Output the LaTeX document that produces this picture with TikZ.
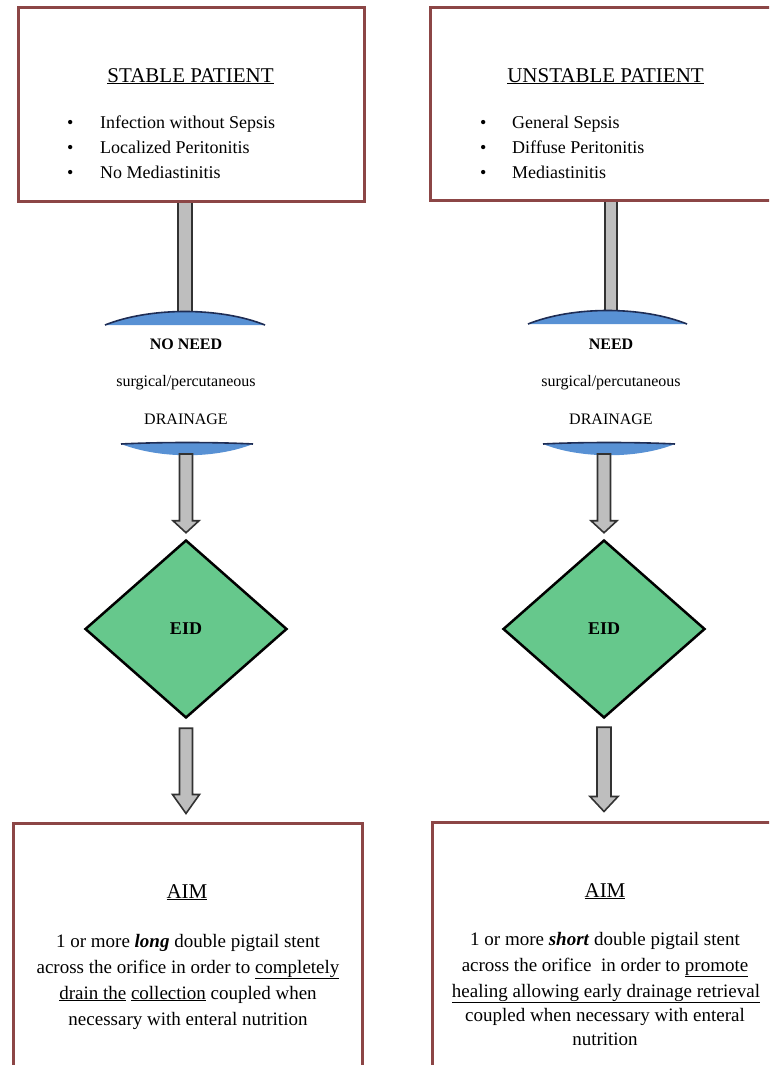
\documentclass[tikz,border=0pt]{standalone}
\usepackage{fontspec}
\setmainfont{Liberation Serif}
\usetikzlibrary{shapes.geometric,calc}
\definecolor{boxred}{RGB}{140,70,70}
\definecolor{bargray}{RGB}{190,190,190}
\definecolor{baredge}{RGB}{50,50,50}
\definecolor{capblue}{RGB}{88,145,212}
\definecolor{capedge}{RGB}{30,45,85}
\definecolor{eidgreen}{RGB}{102,200,140}
\begin{document}
\begin{tikzpicture}[x=1pt,y=-1pt,
  redbox/.style={draw=boxred,line width=3pt,fill=white,inner sep=0pt},
  titletext/.style={font=\fontsize{21}{24}\selectfont,anchor=base,inner sep=0pt},
  bullettext/.style={font=\fontsize{18}{22}\selectfont,anchor=base west,inner sep=0pt},
  midtext/.style={font=\fontsize{16}{19}\selectfont,anchor=base,inner sep=0pt},
  aimtext/.style={font=\fontsize{19}{22}\selectfont,anchor=base,inner sep=0pt},
  eid/.style={diamond,draw=black,line width=2.5pt,fill=eidgreen,minimum width=202pt,minimum height=178pt,inner sep=0pt,font=\bfseries\fontsize{18}{20}\selectfont},
  bar/.style={draw=baredge,line width=1.6pt,fill=bargray,line join=miter},
  capfill/.style={fill=capblue},
  capline/.style={draw=capedge,line width=1.6pt}
]
\useasboundingbox (0,0) rectangle (769,1065);
\clip (0,0) rectangle (769,1065);

% ---------- coordinates of columns ----------
\coordinate (capUL) at (185,311);
\coordinate (capLL) at (186,452);
\coordinate (capUR) at (611,310);
\coordinate (capLR) at (604,452);

% ---------- bars from top boxes to caps ----------
\coordinate (barTopL) at (185,200);
\coordinate (barTopR) at (611,200);
\draw[bar] ($(barTopL)+(-7,0)$) rectangle ($(capUL)+(7,4)$);
\draw[bar] ($(barTopR)+(-6,0)$) rectangle ($(capUR)+(6,4)$);

% ---------- top boxes ----------
\node[redbox,minimum width=346pt,minimum height=193pt] (stable) at (191,104.5) {};
\node[redbox,minimum width=350pt,minimum height=192pt] (unstable) at (605,104) {};

\node[titletext] (stableT) at (190.5,82) {\underline{STABLE PATIENT}};
\node[bullettext] (s1) at (67,128) {\makebox[33pt][l]{\textbullet}Infection without Sepsis};
\node[bullettext] (s2) at (67,153) {\makebox[33pt][l]{\textbullet}Localized Peritonitis};
\node[bullettext] (s3) at (67,178) {\makebox[33pt][l]{\textbullet}No Mediastinitis};

\node[titletext] (unstableT) at (605.5,82) {\underline{UNSTABLE PATIENT}};
\node[bullettext] (u1) at (480,128) {\makebox[32pt][l]{\textbullet}General Sepsis};
\node[bullettext] (u2) at (480,153) {\makebox[32pt][l]{\textbullet}Diffuse Peritonitis};
\node[bullettext] (u3) at (480,178) {\makebox[32pt][l]{\textbullet}Mediastinitis};

% ---------- caps ----------
\fill[capfill] (105,325) .. controls (150,307) and (220,307) .. (265,325) -- cycle;
\draw[capline] (105,325) .. controls (150,307) and (220,307) .. (265,325);
\fill[capfill] (121,444) .. controls (160,442) and (215,442) .. (253,444) .. controls (215,459) and (160,459) .. (121,444) -- cycle;
\draw[capline] (121,444) .. controls (160,442) and (215,442) .. (253,444);

\fill[capfill] (528,324) .. controls (573,306) and (642,306) .. (687,324) -- cycle;
\draw[capline] (528,324) .. controls (573,306) and (642,306) .. (687,324);
\fill[capfill] (543,444) .. controls (580,442) and (638,442) .. (675,444) .. controls (638,459) and (580,459) .. (543,444) -- cycle;
\draw[capline] (543,444) .. controls (580,442) and (638,442) .. (675,444);

% ---------- middle texts ----------
\node[midtext,font=\bfseries\fontsize{16}{19}\selectfont] (noneed) at (186,349) {NO NEED};
\node[midtext] (surgL) at (186,386) {surgical/percutaneous};
\node[midtext] (drainL) at (186,424) {DRAINAGE};

\node[midtext,font=\bfseries\fontsize{16}{19}\selectfont] (need) at (611,349) {NEED};
\node[midtext] (surgR) at (611,386) {surgical/percutaneous};
\node[midtext] (drainR) at (611,424) {DRAINAGE};

% ---------- diamonds ----------
\node[eid] (eidL) at (186,629) {EID};
\node[eid] (eidR) at (604,629) {EID};

% ---------- bottom boxes ----------
\node[redbox,minimum width=349pt,minimum height=257pt] (aimL) at (187.5,951.5) {};
\node[redbox,minimum width=350pt,minimum height=258pt] (aimR) at (607,951) {};

% ---------- block arrows ----------
% cap -> diamond (left)
\draw[bar] ($(capLL)+(-6.5,2)$) -- ($(eidL.north)+(-6.5,-18)$) -- ($(eidL.north)+(-13,-18)$)
  -- ($(eidL.north)+(0,-6)$) -- ($(eidL.north)+(13,-18)$) -- ($(eidL.north)+(6.5,-18)$)
  -- ($(capLL)+(6.5,2)$) -- cycle;
% cap -> diamond (right)
\draw[bar] ($(capLR)+(-6.5,2)$) -- ($(eidR.north)+(-6.5,-18)$) -- ($(eidR.north)+(-13,-18)$)
  -- ($(eidR.north)+(0,-6)$) -- ($(eidR.north)+(13,-18)$) -- ($(eidR.north)+(6.5,-18)$)
  -- ($(capLR)+(6.5,2)$) -- cycle;
% diamond -> aim box (left)
\draw[bar] ($(eidL.south)+(-6.5,9)$) -- ($(aimL.north -| eidL.south)+(-6.5,-27)$) -- ($(aimL.north -| eidL.south)+(-13.5,-27)$)
  -- ($(aimL.north -| eidL.south)+(0,-8)$) -- ($(aimL.north -| eidL.south)+(13.5,-27)$) -- ($(aimL.north -| eidL.south)+(6.5,-27)$)
  -- ($(eidL.south)+(6.5,9)$) -- cycle;
% diamond -> aim box (right)
\draw[bar] ($(eidR.south)+(-7,8)$) -- ($(aimR.north -| eidR.south)+(-7,-24)$) -- ($(aimR.north -| eidR.south)+(-14,-24)$)
  -- ($(aimR.north -| eidR.south)+(0,-9)$) -- ($(aimR.north -| eidR.south)+(14,-24)$) -- ($(aimR.north -| eidR.south)+(7,-24)$)
  -- ($(eidR.south)+(7,8)$) -- cycle;

% ---------- bottom texts ----------
\node[titletext] (aimTL) at (187,898) {\underline{AIM}};
\node[aimtext] (l1) at (188,947) {1 or more \textbf{\textit{long}} double pigtail stent};
\node[aimtext] (l2) at (188,973) {across the orifice in order to \underline{completely}};
\node[aimtext] (l3) at (188,999) {\underline{drain the} \underline{collection} coupled when};
\node[aimtext] (l4) at (188,1025) {necessary with enteral nutrition};

\node[titletext] (aimTR) at (605,897) {\underline{AIM}};
\node[aimtext] (r1) at (605,945) {1 or more \textbf{\textit{short}} double pigtail stent};
\node[aimtext] (r2) at (605,971) {across the orifice\ \ in order to \underline{promote}};
\node[aimtext] (r3) at (606,997) {\underline{healing allowing early drainage retrieval}};
\node[aimtext] (r4) at (605,1021) {coupled when necessary with enteral};
\node[aimtext] (r5) at (605,1045) {nutrition};
\end{tikzpicture}
\end{document}
